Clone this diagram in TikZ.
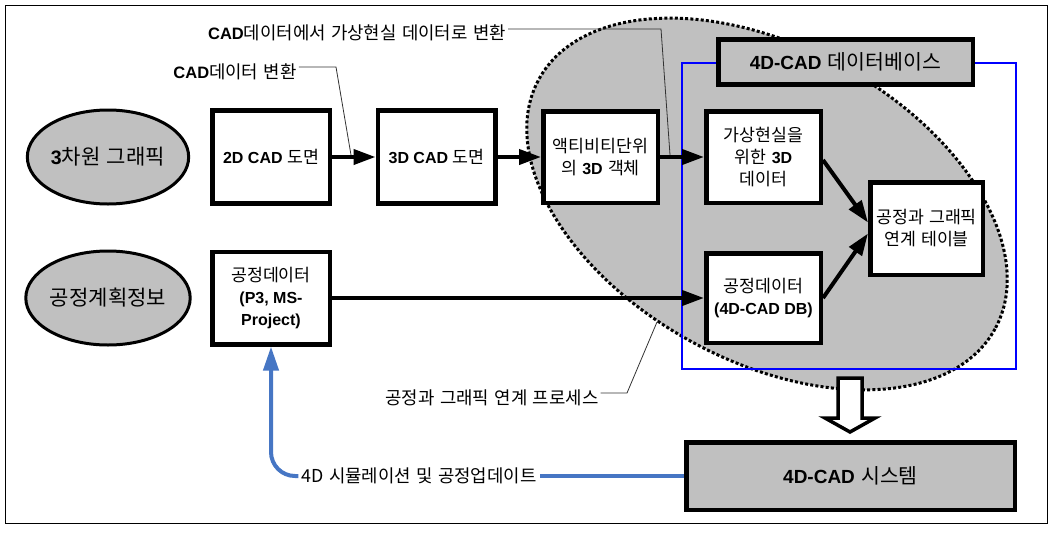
\documentclass[tikz,border=0pt]{standalone}
\usepackage{fontspec}
\setmainfont{Noto Sans CJK KR}[Scale=1.08, WordSpace=1.35]
\newfontfamily\arb{Liberation Sans}
\newcommand\Bf[1]{{\arb\bfseries #1}}
\usetikzlibrary{arrows.meta,calc,shapes.geometric}
\definecolor{shade}{RGB}{192,192,192}
\definecolor{flowblue}{RGB}{70,118,196}
\definecolor{leadgray}{RGB}{50,50,50}
\begin{document}
\begin{tikzpicture}[x=1pt,y=-1pt,
 box/.style={draw, line width=4.5pt, fill=white, minimum width=117.5pt, minimum height=93pt, inner sep=1pt, align=center, font=\fontsize{16}{22}\selectfont},
 graybox/.style={draw, line width=4.5pt, fill=shade, inner sep=0pt, align=center, font=\fontsize{19}{22}\selectfont},
 oval/.style={ellipse, draw, line width=3pt, fill=shade, minimum width=157pt, minimum height=94pt, inner sep=0pt, font=\fontsize{19.5}{22}\selectfont},
 flow/.style={line width=4pt, -{Triangle[length=22pt,width=15pt]}},
 lead/.style={line width=0.8pt, draw=leadgray},
 lbl/.style={inner sep=2pt, font=\fontsize{16.5}{20}\selectfont},
]
\useasboundingbox (0,0) rectangle (1054,533);
\draw[line width=1pt] (5.5,5.5) rectangle (1047,523);
% process ellipse
\draw[shift={(767,204)}, rotate=-28.7, fill=shade, line width=3pt, dash pattern=on 3pt off 2.2pt] (0,0) ellipse [x radius=260, y radius=157];
% database frame
\draw[blue, line width=2pt] (682,63) rectangle (1016,369);

\node[oval] (e3d) at (108,157) {\Bf{3}차원 그래픽};
\node[oval] (eplan) at (108,298) {공정계획정보};
\node[box] (b2d) at (271,157) {\Bf{2D CAD }도면};
\node[box] (b3d) at (436.5,157) {\Bf{3D CAD }도면};
\node[box, minimum width=114.5pt, minimum height=91.5pt] (bact) at (600.5,157) {액티비티단위\\의 \Bf{3D} 객체};
\node[box, minimum width=114.5pt, minimum height=91.5pt] (bvr) at (763.5,157) {가상현실을\\위한 \Bf{3D}\\데이터};
\node[box, minimum width=112.5pt, minimum height=92.5pt] (btab) at (926.5,228.5) {공정과 그래픽\\연계 테이블};
\node[box, minimum width=114.5pt, minimum height=89.5pt] (bdb) at (763.5,298) {공정데이터\\\Bf{(4D-CAD DB)}};
\node[box, minimum height=92.5pt] (bp3) at (271,298) {공정데이터\\\Bf{(P3, MS-}\\\Bf{Project)}};
\node[graybox, minimum width=254.5pt, minimum height=45pt] (dbh) at (845.5,62) {\Bf{4D-CAD} 데이터베이스};
\node[graybox, minimum width=328.5pt, minimum height=67.5pt] (sys) at (850.5,476) {\Bf{4D-CAD} 시스템};

\node[lbl] (l1) at (357,33) {\Bf{CAD}데이터에서 가상현실 데이터로 변환};
\node[lbl] (l2) at (235,72) {\Bf{CAD}데이터 변환};
\node[lbl] (l3) at (492,398) {공정과 그래픽 연계 프로세스};
\node[lbl, inner sep=3pt] (l4) at (419,476) {4D 시뮬레이션 및 공정업데이트};

\coordinate (s1) at ($(l1.east)+(0,-4)$);
\coordinate (s2) at ($(l2.east)+(0,-5)$);
\coordinate (s3) at ($(l3.east)+(0,-5)$);
\coordinate (k1) at (661,0); \coordinate (t1) at (670,155);
\coordinate (k2) at (336,0); \coordinate (t2) at (351,155);
\coordinate (k3) at (627,0); \coordinate (t3) at (657,322);
\draw[lead] (s1) -- (s1 -| k1) -- (t1);
\draw[lead] (s2) -- (s2 -| k2) -- (t2);
\draw[lead] (s3) -- (s3 -| k3) -- (t3);

\draw[flow] (b2d) -- (b3d);
\draw[flow] (b3d) -- (bact);
\draw[flow] (bact) -- (bvr);
\draw[flow] (bp3) -- (bdb);
\draw[flow] ($(bvr.east)+(0,3)$) -- ($(btab.west)+(0,-6)$);
\draw[flow] (bdb.east) -- ($(btab.west)+(0,5)$);

\draw[line width=3.5pt, fill=white] (838,378) -- (862,378) -- (862,418) -- (875,418) -- (850,432) -- (825,418) -- (838,418) -- cycle;

\draw[flowblue, line width=4pt] (sys.west) -- (l4.east);
\draw[flowblue, line width=4pt, rounded corners=24pt, -{Triangle[length=24pt,width=15pt]}] (l4.west) -| (bp3.south);
\end{tikzpicture}
\end{document}
